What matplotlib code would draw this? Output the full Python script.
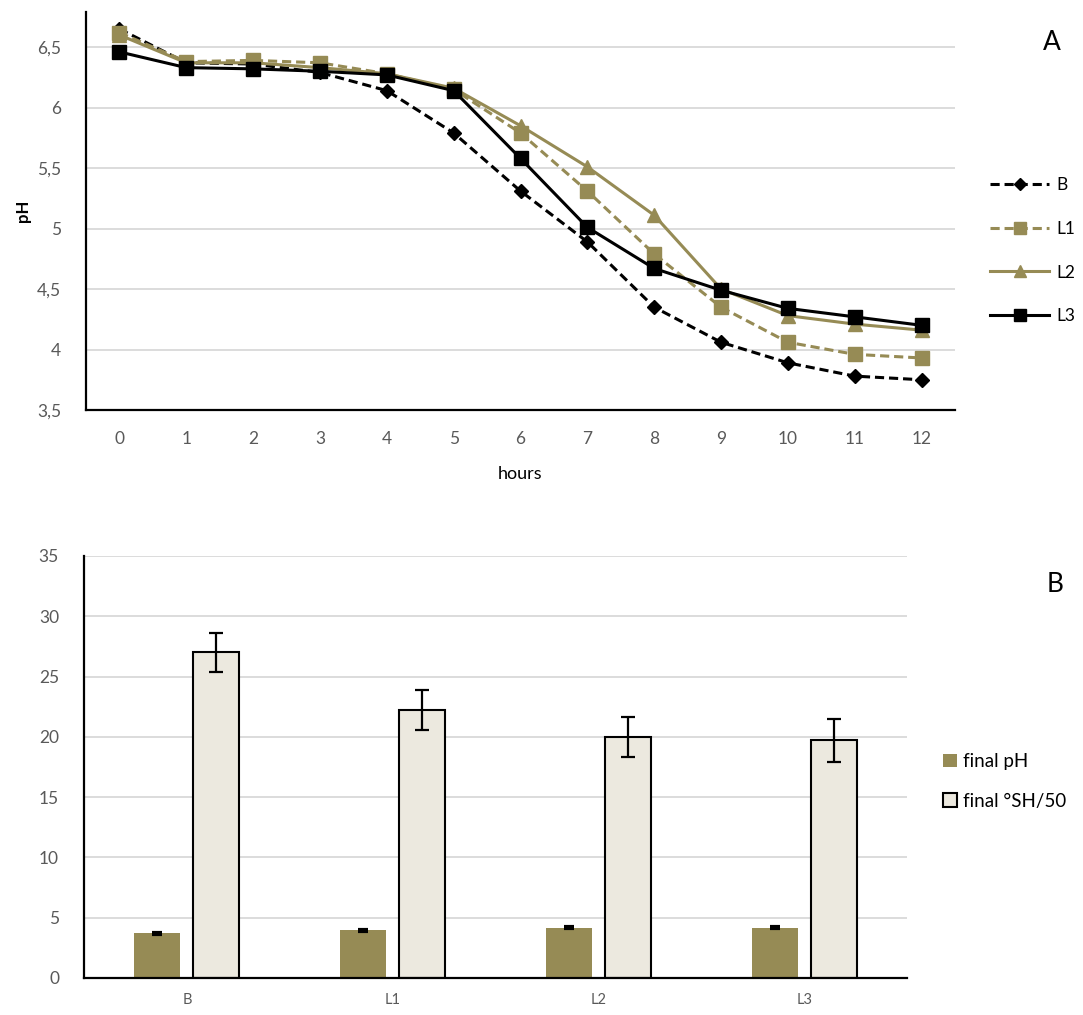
import matplotlib
matplotlib.use("Agg")
import matplotlib.pyplot as plt
import numpy as np
from matplotlib.ticker import FuncFormatter

plt.rcParams['font.family'] = ['Lato', 'DejaVu Sans']

hours = list(range(13))
ph_B  = [6.65, 6.37, 6.36, 6.29, 6.14, 5.79, 5.31, 4.89, 4.35, 4.06, 3.89, 3.78, 3.75]
ph_L1 = [6.62, 6.38, 6.39, 6.37, 6.28, 6.15, 5.79, 5.31, 4.79, 4.35, 4.06, 3.96, 3.93]
ph_L2 = [6.60, 6.37, 6.37, 6.33, 6.28, 6.16, 5.85, 5.51, 5.11, 4.50, 4.28, 4.21, 4.16]
ph_L3 = [6.46, 6.33, 6.32, 6.30, 6.27, 6.14, 5.58, 5.01, 4.67, 4.49, 4.34, 4.27, 4.20]

groups = ['B', 'L1', 'L2', 'L3']
final_ph = [3.72, 3.95, 4.17, 4.17]
final_ph_err = [0.05, 0.05, 0.05, 0.05]
final_sh = [27.0, 22.2, 20.0, 19.7]
final_sh_err = [1.65, 1.65, 1.68, 1.78]

olive = '#968B55'
cream = '#ECE9DF'
grid_c = '#D9D9D9'
tick_c = '#595959'

fig = plt.figure(figsize=(10.83, 10.15), dpi=100)

# ---------- Panel A ----------
ax1 = fig.add_axes([86/1083, 1-410/1015, (955-86)/1083, (410-12)/1015])
ax1.plot(hours, ph_B, color='black', ls=(0, (3, 1.6)), lw=2.2, marker='D', ms=7, label='B')
ax1.plot(hours, ph_L1, color=olive, ls=(0, (3, 1.6)), lw=2.2, marker='s', ms=10, label='L1')
ax1.plot(hours, ph_L2, color=olive, ls='-', lw=2.2, marker='^', ms=10, label='L2')
ax1.plot(hours, ph_L3, color='black', ls='-', lw=2.2, marker='s', ms=10, label='L3')
ax1.set_xlim(-0.5, 12.5)
ax1.set_ylim(3.5, 6.79)
ax1.set_xticks(hours)
ax1.set_yticks([3.5, 4, 4.5, 5, 5.5, 6, 6.5])
ax1.yaxis.set_major_formatter(FuncFormatter(lambda v, p: ('%g' % v).replace('.', ',')))
ax1.grid(axis='y', color=grid_c, lw=1.3)
ax1.set_axisbelow(True)
for s in ['top', 'right']:
    ax1.spines[s].set_visible(False)
for s in ['left', 'bottom']:
    ax1.spines[s].set_linewidth(1.6)
ax1.tick_params(length=0, labelsize=12.5, labelcolor=tick_c)
ax1.tick_params(axis='x', pad=15)
ax1.tick_params(axis='y', pad=18)
ax1.set_xlabel('hours', fontsize=13, labelpad=14)
ax1.set_ylabel('pH', fontsize=12, fontweight='bold', labelpad=4)
leg1 = ax1.legend(loc='upper left', bbox_to_anchor=(990/1083, 1-177/1015), bbox_transform=fig.transFigure,
                  frameon=False, fontsize=12.5, handlelength=3.4, labelspacing=1.6, borderpad=0,
                  borderaxespad=0, handletextpad=0.4, markerscale=0.9)
fig.text(1052/1083, 1-42/1015, 'A', fontsize=19, ha='center', va='center')

# ---------- Panel B ----------
ax2 = fig.add_axes([84/1083, 1-978/1015, (907-84)/1083, (978-556)/1015])
x = np.arange(len(groups))
w = 0.224
off = 0.143
ax2.bar(x - off, final_ph, w, color=olive, yerr=final_ph_err, capsize=3.5,
        error_kw=dict(lw=1.6, capthick=3, ecolor='black'), label='final pH')
ax2.bar(x + off, final_sh, w, color=cream, edgecolor='black', linewidth=1.5, yerr=final_sh_err, capsize=5,
        error_kw=dict(lw=1.6, capthick=1.6, ecolor='black'), label='final °SH/50')
ax2.set_xlim(-0.5, 3.5)
ax2.set_ylim(0, 35)
ax2.set_xticks(x)
ax2.set_xticklabels(groups)
ax2.set_yticks(range(0, 36, 5))
ax2.grid(axis='y', color=grid_c, lw=1.3)
ax2.set_axisbelow(True)
for s in ['top', 'right']:
    ax2.spines[s].set_visible(False)
for s in ['left', 'bottom']:
    ax2.spines[s].set_linewidth(1.6)
ax2.tick_params(axis='y', length=0, labelsize=12.5, labelcolor=tick_c, pad=18)
ax2.tick_params(axis='x', length=0, labelsize=10.5, labelcolor=tick_c, pad=11)
leg2 = ax2.legend(loc='upper left', bbox_to_anchor=(943/1083, 1-753/1015), bbox_transform=fig.transFigure,
                  frameon=False, fontsize=13.5, handlelength=0.75, handleheight=0.75, labelspacing=1.2,
                  borderpad=0, borderaxespad=0, handletextpad=0.3)
fig.text(1055/1083, 1-585/1015, 'B', fontsize=19, ha='center', va='center')

fig.savefig('out.png', dpi=100)
